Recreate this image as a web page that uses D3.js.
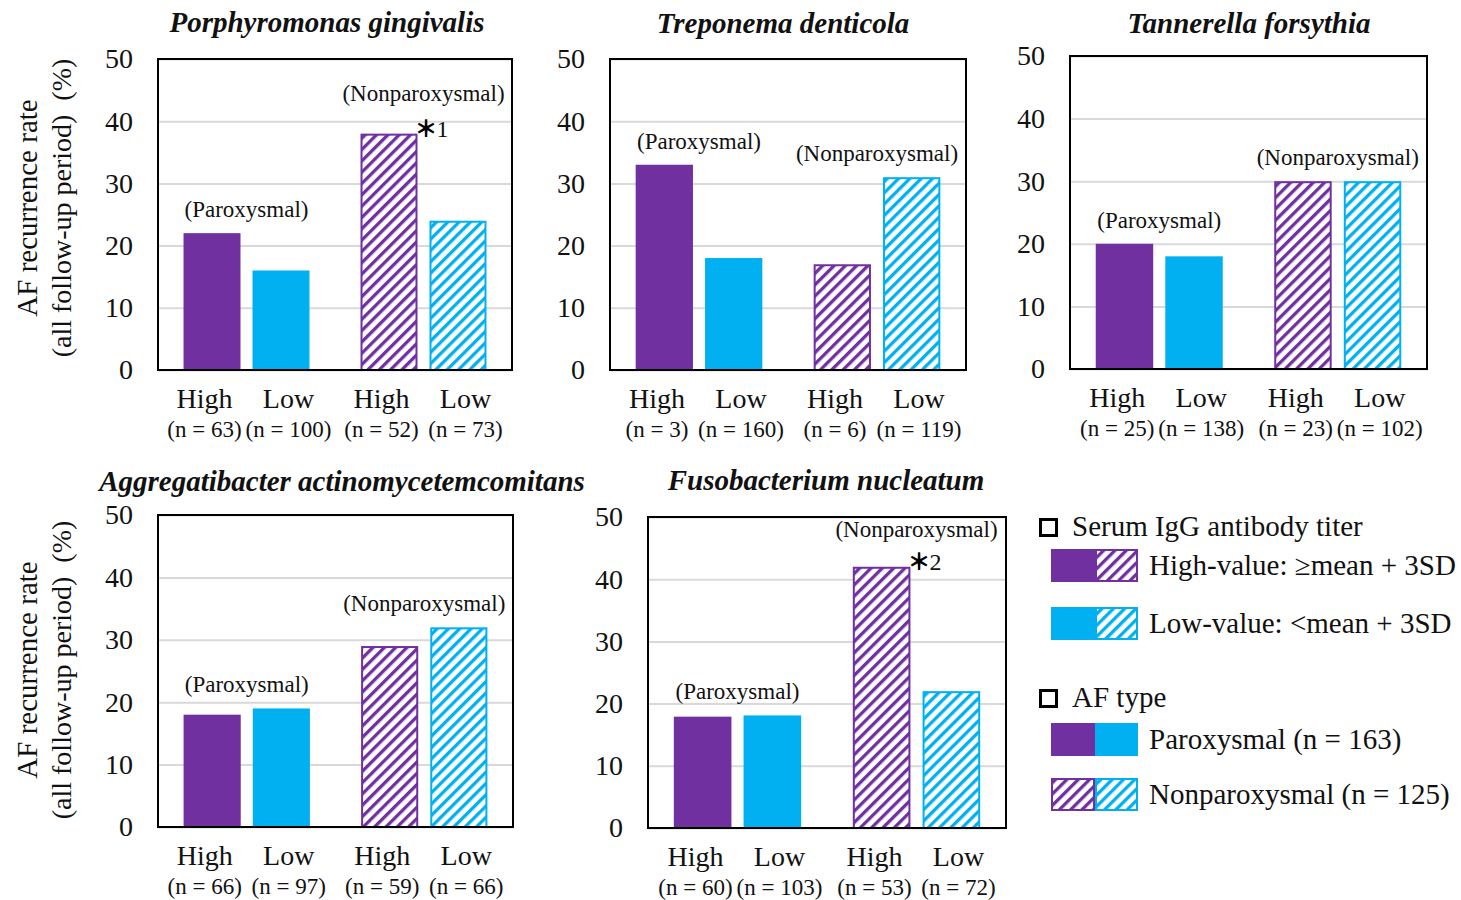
<!DOCTYPE html>
<html>
<head>
<meta charset="utf-8">
<script src="https://cdnjs.cloudflare.com/ajax/libs/d3/7.8.5/d3.min.js"></script>
<style>
body{margin:0;background:#fff;}
svg text{font-family:"Liberation Serif","Times New Roman",serif;fill:#111;}
</style>
</head>
<body>
<svg id="chart" width="1461" height="900"></svg>
<script>
// chart data
var bacteria = ["Porphyromonas gingivalis", "Treponema denticola", "Tannerella forsythia",
                "Aggregatibacter actinomycetemcomitans", "Fusobacterium nucleatum"];
var afTypes = ["Paroxysmal", "Nonparoxysmal"];
var titerLevels = ["High", "Low"];
var paroxHigh    = [22, 33, 20, 18, 17.9];
var paroxLow     = [16, 18, 18, 19, 18.1];
var nonparoxHigh = [38, 17, 30, 29, 42];
var nonparoxLow  = [24, 31, 30, 32, 22];
var nParoxHigh    = [63, 3, 25, 66, 60];
var nParoxLow     = [100, 160, 138, 97, 103];
var nNonparoxHigh = [52, 6, 23, 59, 53];
var nNonparoxLow  = [73, 119, 102, 66, 72];
var starNotes = ["1", null, null, null, "2"];
var yTicks = [0, 10, 20, 30, 40, 50];
var legendHeaders = ["Serum IgG antibody titer", "AF type"];
var legendLabels = ["High-value: \u2265mean + 3SD", "Low-value: <mean + 3SD",
                    "Paroxysmal (n = 163)", "Nonparoxysmal (n = 125)"];

var PURPLE = "#7030a0", BLUE = "#00b0f0", GRID = "#d9d9d9";

// layout
var panelBoxes = [
    {x0: 158, x1: 512, y0: 59, y1: 370, tx: 327, ty: 32},
    {x0: 610, x1: 966, y0: 59, y1: 370, tx: 783, ty: 33},
    {x0: 1070, x1: 1427, y0: 56, y1: 369, tx: 1249, ty: 33},
    {x0: 158, x1: 513, y0: 515, y1: 827, tx: 342, ty: 491},
    {x0: 648, x1: 1006, y0: 517, y1: 828, tx: 826, ty: 490}
];

var svg = d3.select("svg#chart");
var defs = svg.append("defs");

var makeHatch = function(id, color){
    var p = defs.append("pattern")
        .attr("id", id)
        .attr("patternUnits", "userSpaceOnUse")
        .attr("width", 8).attr("height", 8)
        .attr("patternTransform", "rotate(45)");
    p.append("rect").attr("width", 8).attr("height", 8).attr("fill", "#fff");
    p.append("rect").attr("width", 3.3).attr("height", 8).attr("fill", color);
};
makeHatch("hatchPurple", PURPLE);
makeHatch("hatchBlue", BLUE);

var barColor = function(level){ return level === "High" ? PURPLE : BLUE; };
var hatchFill = function(level){ return level === "High" ? "url(#hatchPurple)" : "url(#hatchBlue)"; };

var drawPanel = function(i){
    var box = panelBoxes[i];
    var g = svg.append("g");
    var y = d3.scaleLinear().domain([0, 50]).range([box.y1, box.y0]);
    var x = d3.scaleBand().domain(afTypes).range([box.x0, box.x1]);
    var xi = d3.scaleBand().domain(titerLevels).range([0, x.bandwidth()])
        .paddingInner(0.174).paddingOuter(0.37);
    var vals = [[paroxHigh[i], paroxLow[i]], [nonparoxHigh[i], nonparoxLow[i]]];
    var ns = [[nParoxHigh[i], nParoxLow[i]], [nNonparoxHigh[i], nNonparoxLow[i]]];
    var bars = [];
    afTypes.forEach(function(t, ti){
        titerLevels.forEach(function(l, li){
            bars.push({type: t, level: l, value: vals[ti][li], n: ns[ti][li], hatched: ti === 1});
        });
    });

    // gridlines
    g.append("g")
        .attr("transform", "translate(" + box.x0 + ",0)")
        .call(d3.axisLeft(y).tickValues(yTicks).tickSize(-(box.x1 - box.x0)).tickFormat(""))
        .call(function(a){
            a.select(".domain").remove();
            a.selectAll("line").attr("stroke", GRID).attr("stroke-width", 2);
        });

    // tick labels
    g.append("g")
        .attr("transform", "translate(" + box.x0 + ",0)")
        .call(d3.axisLeft(y).tickValues(yTicks).tickSize(0).tickPadding(25))
        .call(function(a){
            a.select(".domain").remove();
            a.attr("font-size", 28);
            a.selectAll("text").attr("fill", "#111");
        });

    // bars
    g.selectAll("rect.bar")
        .data(bars)
        .enter()
        .append("rect")
        .attr("class", "bar")
        .attr("x", function(d){ return x(d.type) + xi(d.level) + (d.hatched ? 1 : 0); })
        .attr("y", function(d){ return y(d.value) + (d.hatched ? 1 : 0); })
        .attr("width", function(d){ return xi.bandwidth() - (d.hatched ? 2 : 0); })
        .attr("height", function(d){ return y(0) - y(d.value) - (d.hatched ? 1 : 0); })
        .attr("fill", function(d){ return d.hatched ? hatchFill(d.level) : barColor(d.level); })
        .attr("stroke", function(d){ return d.hatched ? barColor(d.level) : "none"; })
        .attr("stroke-width", 2);

    // frame
    g.append("rect")
        .attr("x", box.x0).attr("y", box.y0)
        .attr("width", box.x1 - box.x0).attr("height", box.y1 - box.y0)
        .attr("fill", "none").attr("stroke", "#000").attr("stroke-width", 2);

    // category labels
    var labelX = function(d){
        return x(d.type) + x.bandwidth() / 2 + (d.level === "High" ? -42 : 42);
    };
    g.selectAll("text.cat")
        .data(bars)
        .enter()
        .append("text")
        .attr("class", "cat")
        .attr("x", labelX)
        .attr("y", box.y1 + 38)
        .attr("text-anchor", "middle")
        .attr("font-size", 28)
        .text(function(d){ return d.level; });
    g.selectAll("text.n")
        .data(bars)
        .enter()
        .append("text")
        .attr("class", "n")
        .attr("x", labelX)
        .attr("y", box.y1 + 67)
        .attr("text-anchor", "middle")
        .attr("font-size", 23)
        .text(function(d){ return "(n = " + d.n + ")"; });

    // AF type notes above each group, kept inside the frame
    afTypes.forEach(function(t, ti){
        var hasStar = ti === 1 && starNotes[i];
        var ly = y(d3.max(vals[ti])) - (hasStar ? 33 : 16);
        g.append("text")
            .attr("x", x(t) + x.bandwidth() / 2)
            .attr("y", Math.max(ly, box.y0 + 20))
            .attr("text-anchor", "middle")
            .attr("font-size", 23)
            .text("(" + t + ")");
    });

    if (starNotes[i]) {
        var st = g.append("text")
            .attr("x", x("Nonparoxysmal") + xi("High") + xi.bandwidth() - 3)
            .attr("y", y(nonparoxHigh[i]) + 3);
        st.append("tspan")
            .style("font-family", "'Noto Sans CJK JP', sans-serif")
            .attr("font-weight", "900")
            .attr("font-size", 23)
            .attr("fill", "#000")
            .text("\uff0a");
        st.append("tspan")
            .attr("font-size", 24)
            .attr("dx", -1)
            .text(starNotes[i]);
    }

    // title
    g.append("text")
        .attr("x", box.tx)
        .attr("y", box.ty)
        .attr("text-anchor", "middle")
        .attr("font-size", 29)
        .attr("font-weight", "bold")
        .attr("font-style", "italic")
        .attr("fill", "#000")
        .text(bacteria[i]);
};

var drawYLabel = function(cy){
    var g = svg.append("g").attr("transform", "translate(0," + cy + ") rotate(-90)");
    g.append("text").attr("x", 0).attr("y", 37).attr("text-anchor", "middle")
        .attr("font-size", 29).text("AF recurrence rate");
    g.append("text").attr("x", 0).attr("y", 71).attr("text-anchor", "middle")
        .attr("font-size", 28).text("(all follow-up period)\u00a0\u00a0(%)");
};

d3.range(bacteria.length).forEach(drawPanel);
drawYLabel(208);
drawYLabel(670);

// legend
var legend = svg.append("g");
var headerPos = [{x: 1039, y: 518}, {x: 1039, y: 689}];
legendHeaders.forEach(function(h, i){
    legend.append("rect")
        .attr("x", headerPos[i].x + 1.5).attr("y", headerPos[i].y + 1.5)
        .attr("width", 16).attr("height", 16)
        .attr("fill", "none").attr("stroke", "#000").attr("stroke-width", 3);
    legend.append("text")
        .attr("x", headerPos[i].x + 33).attr("y", headerPos[i].y + 18)
        .attr("font-size", 29)
        .text(h);
});

// each swatch: left half and right half
var swatches = [
    [{level: "High", hatched: false}, {level: "High", hatched: true}],
    [{level: "Low", hatched: false}, {level: "Low", hatched: true}],
    [{level: "High", hatched: false}, {level: "Low", hatched: false}],
    [{level: "High", hatched: true}, {level: "Low", hatched: true}]
];
var rowTops = [549, 607, 723, 778];
legendLabels.forEach(function(lab, i){
    swatches[i].forEach(function(s, k){
        legend.append("rect")
            .attr("x", 1051 + k * 44 + (s.hatched ? 1 : 0))
            .attr("y", rowTops[i] + (s.hatched ? 1 : 0))
            .attr("width", (k === 0 ? 44 : 43) - (s.hatched ? 2 : 0))
            .attr("height", 33 - (s.hatched ? 2 : 0))
            .attr("fill", s.hatched ? hatchFill(s.level) : barColor(s.level))
            .attr("stroke", s.hatched ? barColor(s.level) : "none")
            .attr("stroke-width", 2);
    });
    legend.append("text")
        .attr("x", 1149).attr("y", rowTops[i] + 26)
        .attr("font-size", 29)
        .text(lab);
});
</script>
</body>
</html>
